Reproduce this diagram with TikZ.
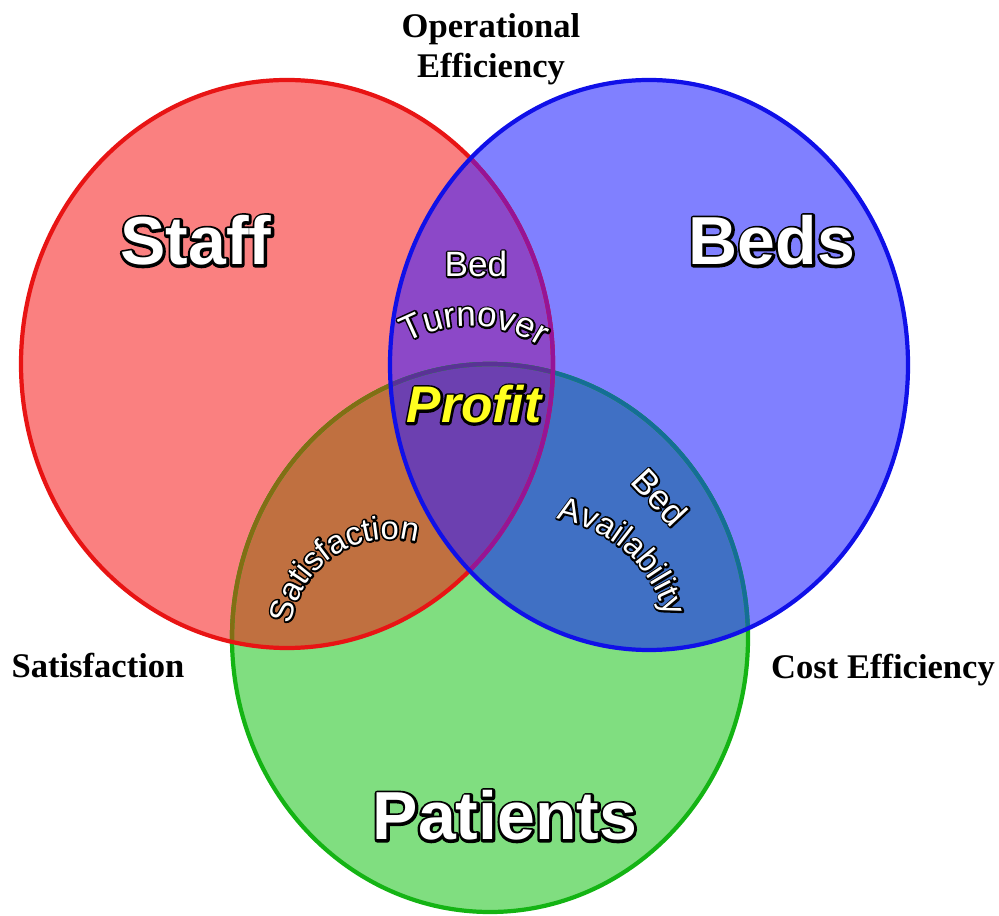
\documentclass[tikz,border=0pt]{standalone}
\usepackage{fontspec}
\setmainfont{Liberation Serif}
\setsansfont{Liberation Sans}[BoldFont={Liberation Sans Bold}, ItalicFont={Liberation Sans Italic}, BoldItalicFont={Liberation Sans Bold Italic}]
\usetikzlibrary{decorations.text}
\definecolor{fR}{RGB}{250,128,128}
\definecolor{fB}{RGB}{128,128,255}
\definecolor{fG}{RGB}{128,222,128}
\definecolor{fRB}{RGB}{140,72,200}
\definecolor{fRG}{RGB}{192,112,64}
\definecolor{fBG}{RGB}{64,112,196}
\definecolor{fRBG}{RGB}{108,64,176}
\definecolor{lR}{RGB}{232,20,20}
\definecolor{lB}{RGB}{16,16,232}
\definecolor{lG}{RGB}{20,180,20}
\definecolor{lGinR}{RGB}{130,110,20}
\definecolor{lGinB}{RGB}{20,110,150}
\definecolor{lGinRB}{RGB}{90,50,150}
\definecolor{lRinB}{RGB}{150,20,150}
% outlined text: black stroke underneath, coloured fill on top
\newcommand\outl[3]{\special{pdf:literal direct 0 0 0 RG #1 w 1 j 1 Tr}\rlap{#3}\special{pdf:literal direct #2 rg 0 Tr}#3}
\newcommand\arcstroke{\sffamily\fontsize{30}{30}\selectfont\special{pdf:literal direct 0 0 0 RG 3 w 1 j 1 Tr}}
\newcommand\arcfill{\sffamily\fontsize{30}{30}\selectfont\special{pdf:literal direct 1 1 1 rg 0 Tr}}
\newcommand\arcstrokeb{\sffamily\fontsize{28}{28}\selectfont\special{pdf:literal direct 0 0 0 RG 3 w 1 j 1 Tr}}
\newcommand\arcfillb{\sffamily\fontsize{28}{28}\selectfont\special{pdf:literal direct 1 1 1 rg 0 Tr}}
\begin{document}
\begin{tikzpicture}[x=0.03cm,y=0.03cm,
  redE/.style={x radius=266, y radius=284},
  blueE/.style={x radius=259, y radius=285},
  greenE/.style={x radius=258, y radius=274},
  ring/.style={line width=3.6pt},
  biglabel/.style={font=\sffamily\bfseries\fontsize{58}{58}\selectfont, text=white, anchor=base, inner sep=0pt},
  smalllabel/.style={font=\sffamily\fontsize{30}{30}\selectfont, text=white, anchor=center, inner sep=0pt},
  sidelabel/.style={font=\rmfamily\bfseries\fontsize{29.5}{35}\selectfont, text=black, anchor=base, inner sep=0pt}]
\useasboundingbox (0,0) rectangle (999,915);
\coordinate (cr) at (287,551);
\coordinate (cb) at (649,550);
\coordinate (cg) at (490,277);
% region fills
\fill[fR] (cr) ellipse[redE];
\fill[fB] (cb) ellipse[blueE];
\fill[fG] (cg) ellipse[greenE];
\begin{scope}
  \clip (cr) ellipse[redE];
  \fill[fRB] (cb) ellipse[blueE];
  \fill[fRG] (cg) ellipse[greenE];
\end{scope}
\begin{scope}
  \clip (cb) ellipse[blueE];
  \fill[fBG] (cg) ellipse[greenE];
\end{scope}
\begin{scope}
  \clip (cr) ellipse[redE];
  \clip (cb) ellipse[blueE];
  \fill[fRBG] (cg) ellipse[greenE];
\end{scope}
% borders
\draw[ring, lG] (cg) ellipse[greenE];
\begin{scope}
  \clip (cr) ellipse[redE];
  \draw[ring, lGinR] (cg) ellipse[greenE];
\end{scope}
\begin{scope}
  \clip (cb) ellipse[blueE];
  \draw[ring, lGinB] (cg) ellipse[greenE];
\end{scope}
\begin{scope}
  \clip (cr) ellipse[redE];
  \clip (cb) ellipse[blueE];
  \draw[ring, lGinRB] (cg) ellipse[greenE];
\end{scope}
\draw[ring, lR] (cr) ellipse[redE];
\begin{scope}
  \clip (cb) ellipse[blueE];
  \draw[ring, lRinB] (cr) ellipse[redE];
\end{scope}
\draw[ring, lB] (cb) ellipse[blueE];
% big labels
\node[biglabel] (staff) at (196,650) {\outl{4.5}{1 1 1}{Staff}};
\node[biglabel] (beds) at (772,650) {\outl{4.5}{1 1 1}{Beds}};
\node[biglabel] (patients) at (505,75) {\outl{4.5}{1 1 1}{Patients}};
\node[biglabel, font=\sffamily\bfseries\itshape\fontsize{44}{44}\selectfont] (profit) at (474,492) {\outl{4}{1 1 0.12}{Profit}};
% small labels
\node[smalllabel] (bedtop) at (476,651) {\outl{3}{1 1 1}{Bed}};
\node[smalllabel, rotate=-47] (bedavail) at (660,418) {\outl{3}{1 1 1}{Bed}};
% curved labels: outline pass, then fill pass
\path[decorate, decoration={text along path, text align=center, text={|\arcstroke|Turnover}}]
  (470,459) ++(131.5:130) arc[start angle=131.5, end angle=44.8, radius=130];
\path[decorate, decoration={text along path, text align=center, text={|\arcfill|Turnover}}]
  (470,459) ++(131.5:130) arc[start angle=131.5, end angle=44.8, radius=130];
\path[decorate, decoration={text along path, text align=center, text={|\arcstrokeb|Satisfaction}}]
  (390,276) ++(180:100) arc[start angle=180, end angle=66, radius=100];
\path[decorate, decoration={text along path, text align=center, text={|\arcfillb|Satisfaction}}]
  (390,276) ++(180:100) arc[start angle=180, end angle=66, radius=100];
\path[decorate, decoration={text along path, text align=center, text={|\arcstrokeb|Availability}}]
  (534,261) ++(90:137) arc[start angle=90, end angle=6, radius=137];
\path[decorate, decoration={text along path, text align=center, text={|\arcfillb|Availability}}]
  (534,261) ++(90:137) arc[start angle=90, end angle=6, radius=137];
% side labels
\node[sidelabel] (op1) at (491,877) {\special{pdf:literal direct 0 Tr}Operational};
\node[sidelabel] (op2) at (491,837) {Efficiency};
\node[sidelabel] (satl) at (98,237) {Satisfaction};
\node[sidelabel] (costl) at (883,236) {Cost Efficiency};
\end{tikzpicture}
\end{document}
